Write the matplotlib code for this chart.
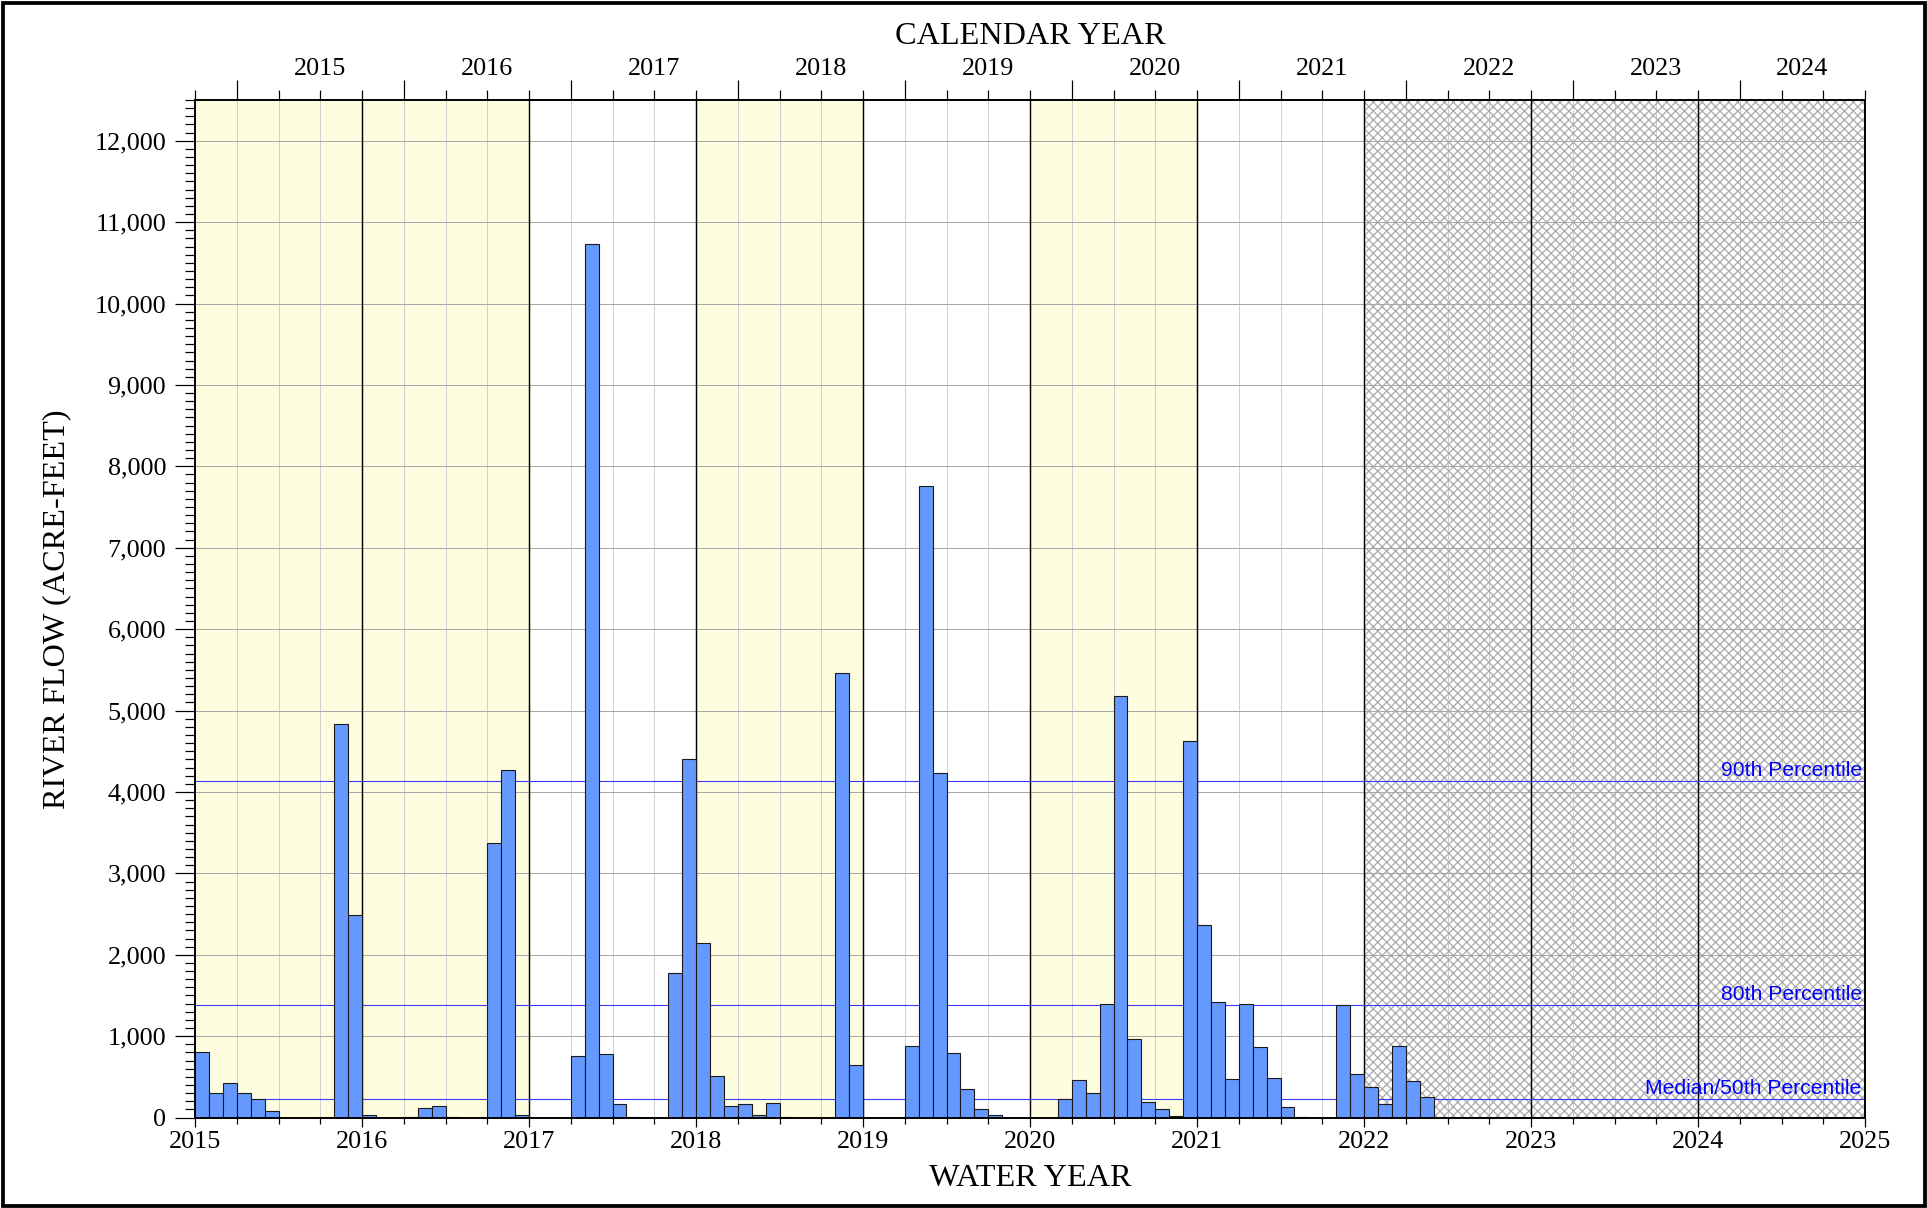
import matplotlib
matplotlib.use("Agg")
import matplotlib.pyplot as plt
from matplotlib.ticker import MultipleLocator, FixedLocator, FuncFormatter, NullFormatter
from matplotlib.patches import Rectangle

# monthly river flow (acre-feet), each list runs Oct..Sep of the water year
wy2015 = [810, 303, 430, 303, 225, 86, 0, 0, 0, 0, 4840, 2490]
wy2016 = [33, 0, 0, 12, 123, 143, 3, 0, 0, 3370, 4270, 33]
wy2017 = [0, 0, 0, 755, 10730, 780, 172, 12, 0, 0, 1780, 4410]
wy2018 = [2150, 511, 138, 162, 29, 184, 8, 0, 0, 0, 5460, 646]
wy2019 = [0, 0, 0, 878, 7760, 4230, 789, 356, 110, 33, 0, 0]
wy2020 = [0, 0, 233, 458, 307, 1391, 5180, 961, 196, 106, 25, 4620]
wy2021 = [2370, 1423, 479, 1395, 871, 491, 135, 12, 0, 0, 1387, 536]
wy2022 = [376, 168, 883, 446, 258]

water_years = [2015, 2016, 2017, 2018, 2019, 2020, 2021, 2022]
flows = [wy2015, wy2016, wy2017, wy2018, wy2019, wy2020, wy2021, wy2022]

dry_years = [2015, 2016, 2018, 2020]
future_start = 2022
future_end = 2025

pct_values = [4140, 1380, 230]
pct_labels = ["90th Percentile", "80th Percentile", "Median/50th Percentile"]

calendar_years = list(range(2015, 2025))

serif = ["Liberation Serif", "DejaVu Serif"]
sans = ["Liberation Sans", "DejaVu Sans"]
plt.rcParams["font.family"] = serif
plt.rcParams["hatch.linewidth"] = 1.1

DPI = 80
fig = plt.figure(figsize=(1927 / DPI, 1208 / DPI), dpi=DPI)
ax = fig.add_axes([195 / 1927, 1 - 1117.6 / 1208, 1670 / 1927, 1017.6 / 1208])
ax.set_axisbelow(True)

x0, x1 = 2015, 2025
ax.set_xlim(x0, x1)
ax.set_ylim(0, 12500)

# dry years shaded, future years cross-hatched
for wy in dry_years:
    ax.axvspan(wy, wy + 1, facecolor="#fffde0", edgecolor="none", zorder=0.2)
ax.axvspan(future_start, future_end, facecolor="none", edgecolor="#a8a8a8",
           hatch="xxx", linewidth=0, zorder=0.6)

# water year boundaries
for wy in range(x0 + 1, x1):
    ax.axvline(wy, color="black", lw=1.3, zorder=1)

# percentile reference lines
for val, lab in zip(pct_values, pct_labels):
    ax.axhline(val, color="#3a3aff", lw=1.0, zorder=2)
    ax.annotate(lab, xy=(x1, val), xytext=(-3, 4.5), textcoords="offset points",
                ha="right", va="baseline", color="#0000ff", fontsize=19,
                family=sans, zorder=2)

# monthly bars
for wy, vals in zip(water_years, flows):
    xs = [wy + i / 12 for i in range(len(vals))]
    ax.bar(xs, vals, width=1 / 12, align="edge", color="#6699ff",
           edgecolor="#1a1a1a", linewidth=1.0, zorder=3)

# axes, ticks and grid
ax.xaxis.set_major_locator(MultipleLocator(1))
ax.xaxis.set_minor_locator(MultipleLocator(0.25))
ax.xaxis.set_major_formatter(FuncFormatter(lambda v, p: f"{int(round(v))}"))
ax.yaxis.set_major_locator(MultipleLocator(1000))
ax.yaxis.set_minor_locator(MultipleLocator(100))
ax.yaxis.set_major_formatter(FuncFormatter(lambda v, p: f"{v:,.0f}"))

ax.grid(which="major", axis="y", color="#a8a8a8", lw=0.9)
ax.grid(which="minor", axis="x", color="#d0d0d0", lw=0.9)

ax.tick_params(axis="x", which="major", length=8, width=1.1, labelsize=23.5, pad=4)
ax.tick_params(axis="x", which="minor", length=5, width=1.1)
ax.tick_params(axis="y", which="major", length=18, width=1.1, labelsize=23.5, pad=8)
ax.tick_params(axis="y", which="minor", length=9, width=1.1)
for s in ax.spines.values():
    s.set_linewidth(1.5)
    s.set_zorder(4)

# calendar year axis along the top
ax2 = ax.twiny()
ax2.set_xlim(x0, x1)
ax2.xaxis.set_major_locator(FixedLocator([cy + 0.25 for cy in calendar_years]))
ax2.xaxis.set_minor_locator(MultipleLocator(0.25))
ax2.xaxis.set_major_formatter(NullFormatter())
ax2.tick_params(axis="x", which="major", length=18, width=1.1)
ax2.tick_params(axis="x", which="minor", length=9, width=1.1)
for s in ax2.spines.values():
    s.set_linewidth(1.5)

for cy in calendar_years:
    start = max(cy + 0.25, x0)
    end = min(cy + 1.25, x1)
    ax.annotate(str(cy), xy=((start + end) / 2, 1), xycoords=("data", "axes fraction"),
                xytext=(0, 22.5), textcoords="offset points",
                ha="center", va="baseline", fontsize=23.5)

cx = (195 + 1670 / 2) / 1927
fig.text(cx, 1 - 43.5 / 1208, "CALENDAR YEAR", ha="center", va="baseline", fontsize=29)
fig.text(cx, 1 - 1185.7 / 1208, "WATER YEAR", ha="center", va="baseline", fontsize=29)
fig.text(57 / 1927, 1 - 609 / 1208, "RIVER FLOW (ACRE-FEET)", rotation=90,
         ha="center", va="center", fontsize=29)

# frame round the whole figure
fig.patches.append(Rectangle((2.5 / 1927, 2.5 / 1208), 1 - 5 / 1927, 1 - 5 / 1208,
                             transform=fig.transFigure, fill=False,
                             edgecolor="black", linewidth=3.4))

fig.savefig("out.png", dpi=DPI)
